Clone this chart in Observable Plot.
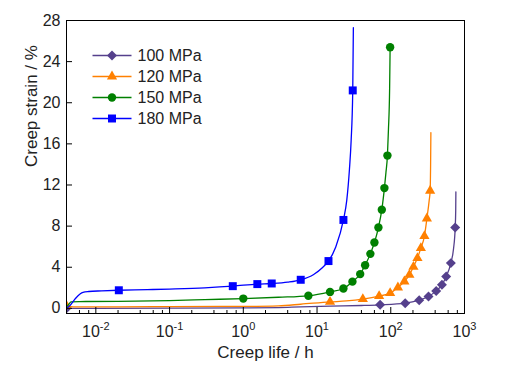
<!DOCTYPE html>
<html><head><meta charset="utf-8">
<script src="https://cdn.jsdelivr.net/npm/d3@7"></script>
<script src="https://cdn.jsdelivr.net/npm/@observablehq/plot@0.6"></script>
<style>
body{margin:0;background:#fff;}
#chart{width:505px;height:367px;}
</style></head><body><div id="chart"></div>
<script>
// ---- data (creep life in h, creep strain in %) ----
const seriesNames = ["100 MPa", "120 MPa", "150 MPa", "180 MPa"];

const line100X = [0.004, 0.01, 0.1, 1, 3, 6, 15, 40, 71.7, 157, 243, 325, 413, 494, 564, 653, 710, 748, 760, 764];
const line100Y = [0.0, 0.0, 0.02, 0.05, 0.08, 0.15, 0.22, 0.28, 0.34, 0.5, 0.8, 1.15, 1.7, 2.29, 3.1, 4.4, 5.8, 7.87, 9.5, 11.34];
const mark100X = [0.004, 71.7, 157, 243, 325, 413, 494, 564, 653, 748];
const mark100Y = [0.0, 0.34, 0.5, 0.8, 1.15, 1.7, 2.29, 3.1, 4.4, 7.87];

const line120X = [0.004, 0.005, 0.02, 0.1, 0.5, 1, 3, 6, 15, 25, 41.8, 69.5, 98, 125, 153, 179, 203, 230, 256, 286, 309, 332, 342, 347, 350];
const line120Y = [0.25, 0.15, 0.15, 0.17, 0.19, 0.2, 0.25, 0.4, 0.63, 0.72, 0.9, 1.19, 1.48, 2.03, 2.61, 3.26, 4.04, 4.89, 5.86, 7.03, 8.74, 10.5, 11.44, 14, 17.1];
const mark120X = [0.004, 15, 41.8, 69.5, 98, 125, 153, 179, 203, 230, 256, 286, 309, 342];
const mark120Y = [0.25, 0.63, 0.9, 1.19, 1.48, 2.03, 2.61, 3.26, 4.04, 4.89, 5.86, 7.03, 8.74, 11.44];

const line150X = [0.004, 0.0043, 0.0046, 0.006, 0.02, 0.1, 0.3, 1.0, 3, 7.63, 15, 22.8, 30.2, 38.5, 44.9, 52.9, 60, 68, 75.6, 82, 86, 90.1, 92.9, 96.5, 98];
const line150Y = [0.15, 0.4, 0.63, 0.66, 0.68, 0.75, 0.85, 0.95, 1.08, 1.22, 1.6, 1.93, 2.6, 3.33, 4.2, 5.3, 6.4, 7.86, 9.6, 11.7, 13.2, 14.86, 17.3, 21.4, 25.4];
const mark150X = [1.0, 7.63, 15, 22.8, 30.2, 38.5, 44.9, 52.9, 60, 68, 75.6, 82, 90.1, 98];
const mark150Y = [0.95, 1.22, 1.6, 1.93, 2.6, 3.33, 4.2, 5.3, 6.4, 7.86, 9.6, 11.7, 14.86, 25.4];

const line180X = [0.004, 0.0044, 0.0052, 0.0061, 0.0067, 0.008, 0.012, 0.0205, 0.05, 0.1, 0.3, 0.72, 1.55, 2.43, 4, 6.01, 9, 12, 14.3, 18, 22.8, 25.3, 27.5, 29, 30.5, 31.1];
const line180Y = [0.05, 0.24, 0.9, 1.4, 1.56, 1.64, 1.7, 1.76, 1.82, 1.88, 2.0, 2.16, 2.36, 2.42, 2.55, 2.78, 3.3, 4.0, 4.6, 6.0, 8.6, 10.5, 13.5, 16.3, 21.2, 27.3];
const mark180X = [0.0205, 0.72, 1.55, 2.43, 6.01, 14.3, 22.8, 30.5];
const mark180Y = [1.76, 2.16, 2.36, 2.42, 2.78, 4.6, 8.6, 21.2];

const xTicks = [0.01, 0.1, 1, 10, 100, 1000];
const xMinorTicks = [0.004, 0.006, 0.008, 0.02, 0.04, 0.06, 0.08, 0.2, 0.4, 0.6, 0.8, 2, 4, 6, 8, 20, 40, 60, 80, 200, 400, 600, 800];
const yTicks = [0, 4, 8, 12, 16, 20, 24, 28];

// ---- styles ----
const colors = ["#55408C", "#FF8000", "#008000", "#0000FF"];
const symbols = ["diamond2", "triangle", "circle", "square"];
const radii = [4.5, 3.8, 4.2, 4.5];
const FONT = "Arial, 'Liberation Sans', sans-serif";
const TEXT = "#222";

const pts = (xs, ys) => xs.map((x, i) => ({x, y: ys[i]}));
const lines = [pts(line100X, line100Y), pts(line120X, line120Y), pts(line150X, line150Y), pts(line180X, line180Y)];
const marks = [pts(mark100X, mark100Y), pts(mark120X, mark120Y), pts(mark150X, mark150Y), pts(mark180X, mark180Y)];

const legendLine = {draw(ctx) { ctx.moveTo(-19.5, 0); ctx.lineTo(19.5, 0); }};

const seriesMarks = [];
seriesNames.forEach((name, i) => {
  seriesMarks.push(Plot.line(lines[i], {x: "x", y: "y", stroke: colors[i], strokeWidth: 1.3, curve: "monotone-x", clip: true}));
  seriesMarks.push(Plot.dot(marks[i], {x: "x", y: "y", fill: colors[i], symbol: symbols[i], r: radii[i], stroke: "none", clip: true}));
});

const legendMarks = [];
seriesNames.forEach((name, i) => {
  const dy = 35 + 21 * i;
  legendMarks.push(Plot.dot([name], {frameAnchor: "top-left", dx: 45.5, dy, symbol: legendLine, stroke: colors[i], strokeWidth: 1.3, fill: "none"}));
  legendMarks.push(Plot.dot([name], {frameAnchor: "top-left", dx: 45.5, dy, symbol: symbols[i], r: radii[i], fill: colors[i], stroke: "none"}));
  legendMarks.push(Plot.text([name], {frameAnchor: "top-left", dx: 71, dy, textAnchor: "start", lineAnchor: "middle", fontSize: 16, fill: TEXT}));
});

const plot = Plot.plot({
  width: 505, height: 367,
  marginLeft: 66, marginRight: 41, marginTop: 20, marginBottom: 54,
  style: {fontFamily: FONT, fontSize: "16px", color: TEXT, background: "white", overflow: "visible"},
  x: {type: "log", domain: [0.004, 1000]},
  y: {domain: [-0.5, 28]},
  marks: [
    ...seriesMarks,
    Plot.frame({stroke: "black", strokeWidth: 1}),
    Plot.axisX({ticks: xTicks, tickSize: -6, fill: "none", stroke: "black", label: null}),
    Plot.axisX({ticks: xMinorTicks, tickSize: -3, fill: "none", stroke: "black", label: null}),
    Plot.axisX({ticks: xTicks, tickSize: 0, tickPadding: 12, fill: TEXT, fontSize: 16, label: null,
                tickFormat: d => "10^" + Math.round(Math.log10(d))}),
    Plot.axisY({ticks: yTicks, tickSize: -6, fill: "none", stroke: "black", label: null}),
    Plot.axisY({ticks: yTicks, tickSize: 0, tickPadding: 6, fill: TEXT, fontSize: 16, label: null}),
    Plot.text(["Creep life / h"], {frameAnchor: "bottom", dy: 39, lineAnchor: "middle", fontSize: 17, fill: TEXT}),
    Plot.text(["Creep strain / %"], {frameAnchor: "left", rotate: -90, dx: -35, lineAnchor: "middle", fontSize: 17, fill: TEXT}),
    ...legendMarks
  ]
});

plot.querySelectorAll('g[aria-label="x-axis tick label"] text').forEach(t => {
  const s = t.textContent;
  const k = s.indexOf("^");
  if (k < 0) return;
  t.textContent = s.slice(0, k);
  const ts = document.createElementNS("http://www.w3.org/2000/svg", "tspan");
  ts.setAttribute("dy", "-7");
  ts.setAttribute("font-size", "11");
  ts.textContent = s.slice(k + 1);
  t.appendChild(ts);
});

document.getElementById("chart").appendChild(plot);
</script>
</body></html>
